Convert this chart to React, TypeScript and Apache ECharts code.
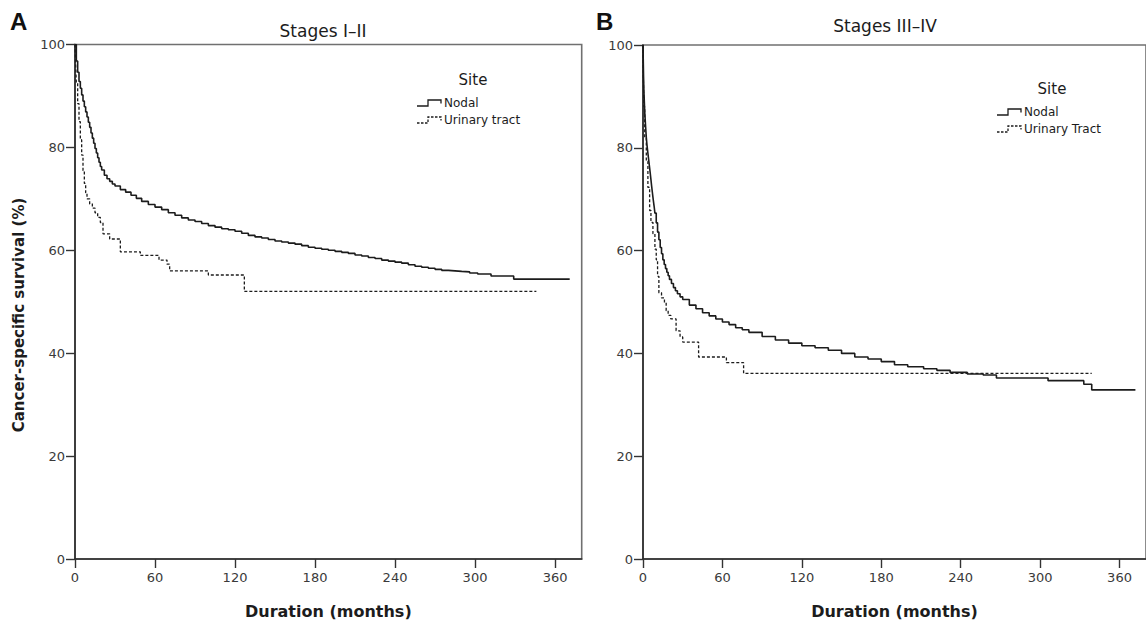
import React, { useEffect, useRef } from "react";
import * as echarts from "echarts";

// Kaplan–Meier estimates, cancer-specific survival (%) by months since diagnosis
const nodalEarlyMonths = [0, 1, 2, 3, 4, 5, 6, 7, 8, 9, 10, 11, 12, 13, 14, 15, 16, 17, 18, 19, 20, 22, 24, 26, 28, 30, 34, 38, 42, 46, 50, 55, 60, 65, 70, 75, 80, 85, 90, 95, 100, 105, 110, 115, 120, 125, 130, 135, 140, 145, 150, 155, 160, 165, 170, 175, 180, 185, 190, 195, 200, 205, 210, 215, 220, 225, 230, 235, 240, 245, 250, 255, 260, 265, 270, 275, 280, 285, 290, 296, 302, 312, 329, 371];
const nodalEarlySurvival = [100, 96.8, 94.6, 92.8, 91.5, 90.2, 89.0, 87.9, 86.9, 85.9, 84.9, 83.9, 82.8, 81.8, 80.8, 79.8, 78.9, 78.0, 77.1, 76.3, 75.6, 74.6, 73.9, 73.4, 72.9, 72.5, 71.8, 71.3, 70.7, 70.1, 69.5, 68.9, 68.4, 67.9, 67.3, 66.8, 66.3, 65.9, 65.6, 65.2, 64.8, 64.5, 64.2, 64.0, 63.7, 63.3, 62.9, 62.6, 62.4, 62.1, 61.8, 61.6, 61.4, 61.2, 60.9, 60.6, 60.4, 60.2, 60.0, 59.8, 59.6, 59.4, 59.1, 58.9, 58.6, 58.4, 58.1, 57.9, 57.7, 57.5, 57.2, 56.9, 56.7, 56.5, 56.3, 56.1, 56.0, 55.9, 55.8, 55.6, 55.4, 55.0, 54.4, 54.4];

const urinaryEarlyMonths = [0, 0.5, 1, 2, 3, 4, 5, 6, 7, 8, 9, 11, 13, 15, 17, 19, 21, 26, 34, 49, 63, 69, 71, 100, 127, 346];
const urinaryEarlySurvival = [100, 96, 92.5, 88.5, 85, 81.5, 78.5, 75.5, 73, 71.2, 70, 69, 68.2, 67.3, 66.4, 65.4, 63.2, 62.2, 59.7, 59.0, 58.1, 57.3, 56.0, 55.2, 52.0, 52.0];

const nodalLateMonths = [0, 0.2, 0.4, 0.7, 1, 1.3, 1.7, 2, 2.5, 3, 3.5, 4, 4.5, 5, 5.5, 6, 6.5, 7, 7.5, 8, 8.5, 9, 10, 11, 12, 13, 14, 15, 16, 17, 18, 19, 20, 21.5, 23, 24.5, 26, 28, 30, 35, 40, 45, 50, 55, 60, 65, 70, 75, 80, 90, 100, 110, 120, 130, 140, 150, 160, 170, 180, 190, 200, 212, 222, 232, 245, 257, 267, 306, 333, 339, 372];
const nodalLateSurvival = [100, 97, 94, 91, 89, 87, 85.3, 84, 82, 80.6, 79.4, 78.3, 77.2, 76.1, 75, 73.8, 72.6, 71.5, 70.4, 69.4, 68.4, 67.3, 65.4, 63.6, 62.1, 60.6, 59.4, 58.2, 57.3, 56.5, 55.8, 55.1, 54.4, 53.6, 52.8, 52.2, 51.6, 51.0, 50.5, 49.4, 48.7, 47.9, 47.3, 46.7, 46.1, 45.6, 45.0, 44.6, 44.1, 43.3, 42.6, 42.0, 41.5, 41.1, 40.6, 40.0, 39.3, 38.9, 38.4, 37.8, 37.4, 37.0, 36.7, 36.3, 36.0, 35.8, 35.2, 34.7, 34.0, 32.9, 32.9];

const urinaryLateMonths = [0, 0.3, 0.7, 1.3, 2.5, 3.7, 5, 6, 7.5, 9, 10, 11, 12, 14, 16.2, 17.5, 19, 21, 25, 28, 30, 42, 63, 76, 339];
const urinaryLateSurvival = [100, 93, 88, 81.9, 77.4, 72.3, 67.8, 65.5, 63.3, 60.3, 58.2, 55, 51.8, 50.8, 49.9, 48.3, 47.4, 46.7, 44.4, 43.2, 42.2, 39.3, 38.2, 36.1, 36.1];

const monthTicks = [0, 60, 120, 180, 240, 300, 360];
const panelTitles = ["Stages I\u2013II", "Stages III\u2013IV"];
const panelLetters = ["A", "B"];
const legendTitle = "Site";
const legendLabelsEarly = ["Nodal", "Urinary tract"];
const legendLabelsLate = ["Nodal", "Urinary Tract"];
const xAxisTitle = "Duration (months)";
const yAxisTitle = "Cancer-specific survival (%)";

const pairs = (xs: number[], ys: number[]) => xs.map((x, i) => [x, ys[i]]);

const INK = "#1c1c1c";
const SANS = "DejaVu Sans";

function stepIcon(x: number, y: number, dashed: boolean) {
  return {
    type: "polyline",
    shape: {
      points: [
        [x, y + 3],
        [x + 11, y + 3],
        [x + 11, y - 3],
        [x + 24, y - 3],
        [x + 24, y + 0.5],
      ],
    },
    style: {
      stroke: INK,
      lineWidth: 1.3,
      fill: null,
      lineDash: dashed ? [2.5, 1.5] : null,
    },
    silent: true,
  };
}

function legendBlock(
  titleX: number,
  titleY: number,
  iconX: number,
  rowY: number,
  labels: string[]
) {
  const item = (text: string, y: number) => ({
    type: "text",
    x: iconX + 27,
    y,
    style: {
      text,
      fontFamily: SANS,
      fontSize: 12,
      fill: INK,
      align: "left",
      verticalAlign: "middle",
    },
  });
  return [
    {
      type: "text",
      x: titleX,
      y: titleY,
      style: {
        text: legendTitle,
        fontFamily: SANS,
        fontSize: 15,
        fill: INK,
        align: "center",
        verticalAlign: "middle",
      },
    },
    stepIcon(iconX, rowY, false),
    item(labels[0], rowY),
    stepIcon(iconX, rowY + 17, true),
    item(labels[1], rowY + 17),
  ];
}

function xAxisFor(gridIndex: number) {
  return {
    type: "value",
    gridIndex,
    min: 0,
    max: 380,
    name: xAxisTitle,
    nameLocation: "middle",
    nameGap: 44,
    nameTextStyle: {
      fontFamily: SANS,
      fontWeight: "bold",
      fontSize: 16,
      color: INK,
    },
    axisLine: { show: true, lineStyle: { color: "#2a2a2a", width: 1.6 } },
    axisTick: {
      show: true,
      length: 9,
      customValues: monthTicks,
      lineStyle: { color: "#333", width: 1.4 },
    },
    axisLabel: {
      customValues: monthTicks,
      fontFamily: SANS,
      fontSize: 13,
      color: "#3a3a3a",
      margin: 12,
    },
    splitLine: { show: false },
  };
}

function yAxisFor(gridIndex: number) {
  return {
    type: "value",
    gridIndex,
    min: 0,
    max: 100,
    interval: 20,
    axisLine: { show: true, lineStyle: { color: "#2a2a2a", width: 1.6 } },
    axisTick: { show: true, length: 9, lineStyle: { color: "#333", width: 1.4 } },
    axisLabel: {
      fontFamily: SANS,
      fontSize: 13,
      color: "#3a3a3a",
      margin: 10,
    },
    splitLine: { show: false },
  };
}

function curve(
  name: string,
  gridIndex: number,
  data: number[][],
  dashed: boolean
) {
  return {
    name,
    type: "line",
    xAxisIndex: gridIndex,
    yAxisIndex: gridIndex,
    step: "end",
    data,
    showSymbol: false,
    symbol: "none",
    silent: true,
    lineStyle: {
      color: INK,
      width: dashed ? 1.3 : 1.6,
      type: dashed ? [3, 2] : "solid",
    },
  };
}

function label(text: string, x: number, y: number, size: number, bold: boolean, family: string) {
  return {
    type: "text",
    x,
    y,
    style: {
      text,
      fontFamily: family,
      fontWeight: bold ? "bold" : "normal",
      fontSize: size,
      fill: bold ? "#111" : INK,
      align: bold ? "left" : "center",
      verticalAlign: "middle",
    },
  };
}

export default function App() {
  const ref = useRef<HTMLDivElement>(null);

  useEffect(() => {
    if (!ref.current) return;
    const chart = echarts.init(ref.current, null, { renderer: "svg" });

    const option = {
      animation: false,
      backgroundColor: "#ffffff",
      grid: [
        {
          left: 75,
          top: 44.5,
          width: 506.7,
          height: 522,
          show: true,
          borderColor: "#707070",
          borderWidth: 1.6,
          backgroundColor: "transparent",
        },
        {
          left: 643,
          top: 45,
          width: 508.5,
          height: 521.6,
          show: true,
          borderColor: "#707070",
          borderWidth: 1.6,
          backgroundColor: "transparent",
        },
      ],
      xAxis: [xAxisFor(0), xAxisFor(1)],
      yAxis: [yAxisFor(0), yAxisFor(1)],
      series: [
        curve("Nodal", 0, pairs(nodalEarlyMonths, nodalEarlySurvival), false),
        curve("Urinary tract", 0, pairs(urinaryEarlyMonths, urinaryEarlySurvival), true),
        curve("Nodal", 1, pairs(nodalLateMonths, nodalLateSurvival), false),
        curve("Urinary Tract", 1, pairs(urinaryLateMonths, urinaryLateSurvival), true),
      ],
      graphic: [
        label(panelLetters[0], 10, 21, 24, true, "Liberation Sans"),
        label(panelLetters[1], 596, 21, 24, true, "Liberation Sans"),
        label(panelTitles[0], 323, 31, 17, false, SANS),
        label(panelTitles[1], 885, 26, 17, false, SANS),
        {
          type: "text",
          x: 19,
          y: 315,
          rotation: Math.PI / 2,
          style: {
            text: yAxisTitle,
            fontFamily: SANS,
            fontWeight: "bold",
            fontSize: 15,
            fill: INK,
            align: "center",
            verticalAlign: "middle",
          },
        },
        ...legendBlock(473, 80, 417, 103, legendLabelsEarly),
        ...legendBlock(1052, 89, 997, 112, legendLabelsLate),
      ],
    };

    chart.setOption(option as any);
    return () => chart.dispose();
  }, []);

  return (
    <div
      ref={ref}
      style={{ position: "absolute", left: 0, top: 0, width: 1146, height: 624 }}
    />
  );
}
